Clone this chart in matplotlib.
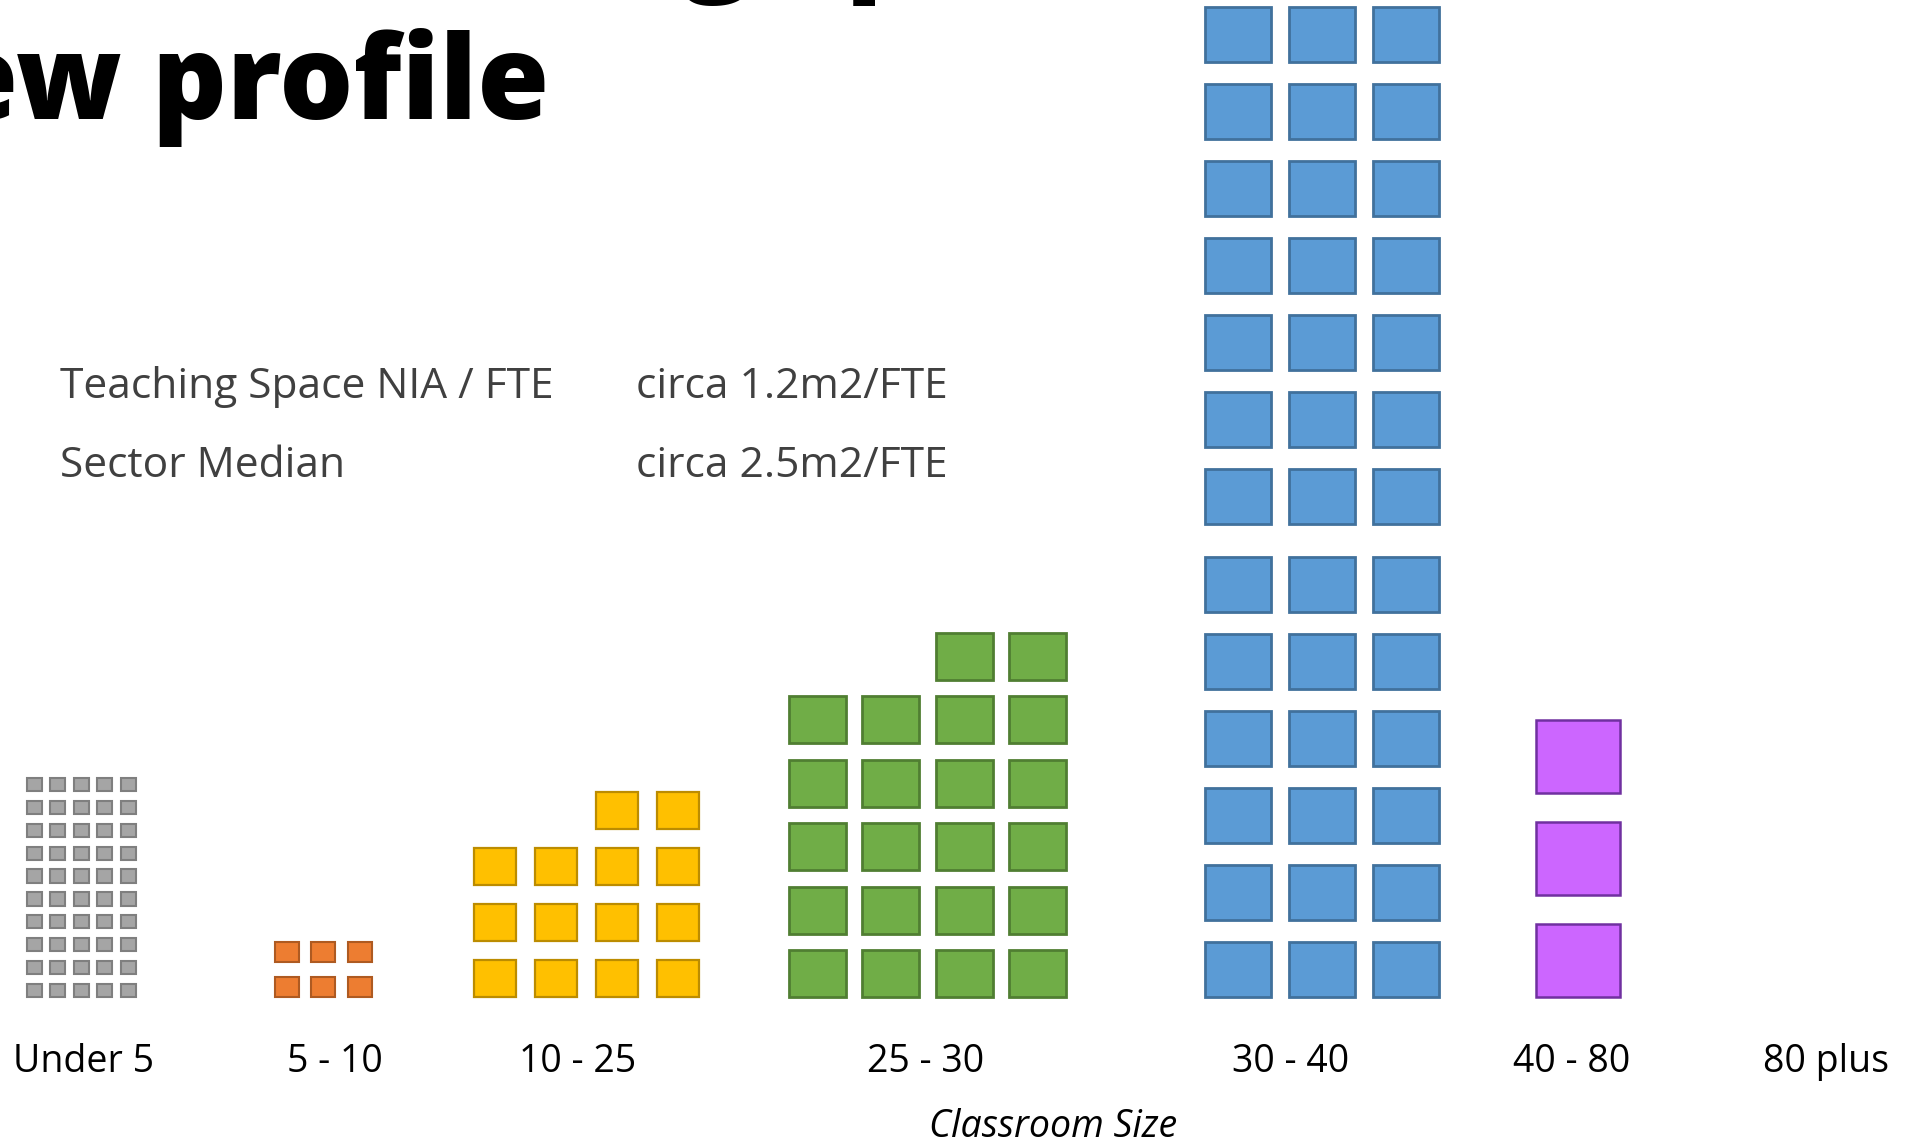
import matplotlib
matplotlib.use("Agg")
import matplotlib.pyplot as plt
from matplotlib.patches import Rectangle

# data
categories = ["Under 5", "5 - 10", "10 - 25", "25 - 30", "30 - 40", "40 - 80", "80 plus"]
room_counts = [50, 6, 14, 22, 39, 3, 0]
metric_names = ["Teaching Space NIA / FTE", "Sector Median"]
metric_values = ["circa 1.2m2/FTE", "circa 2.5m2/FTE"]
title_lines = ["Teaching space", "new profile"]
axis_title = "Classroom Size"

# layout, in pixels of the 1906x1141 slide crop
W, H = 1906, 1141
label_x = [84, 335, 578, 926, 1291, 1572, 1826]
groups = [
    dict(cols=5, left=27, w=15, h=13.3, dx=23.5, dy=22.85, fc="#A5A5A5", ec="#7F7F7F", lw=1.5),
    dict(cols=3, left=275, w=24, h=20.5, dx=36.5, dy=35, fc="#ED7D31", ec="#AE5A21", lw=1.5),
    dict(cols=4, left=474.5, w=42, h=37.5, dx=60.8, dy=56, fc="#FFC000", ec="#BC8C00", lw=1.6),
    dict(cols=4, left=789, w=57, h=47, dx=73.3, dy=63.4, fc="#70AD47", ec="#507E32", lw=2.0),
    dict(cols=3, left=1205, w=66, h=55, dx=84, dy=77, fc="#5B9BD5", ec="#41719C", lw=2.0,
         gap_after=6, gap=10.6),
    dict(cols=1, left=1536, w=84, h=73, dx=0, dy=102, fc="#CC66FF", ec="#7030A0", lw=1.8),
    dict(cols=1, left=1790, w=84, h=73, dx=0, dy=102, fc="#CC66FF", ec="#7030A0", lw=1.8),
]
base = 997

plt.rcParams['font.family'] = ['Open Sans', 'DejaVu Sans']

fig = plt.figure(figsize=(W / 100, H / 100), dpi=100)
ax = fig.add_axes([0, 1 - 1000 / H, 1, 1000 / H])
ax.set_xlim(0, W)
ax.set_ylim(1000, 0)
for s in ax.spines.values():
    s.set_visible(False)
ax.set_yticks([])

# unit squares, filled row by row from the bottom; a short top row sits on the right
for n, g in zip(room_counts, groups):
    if n == 0:
        continue
    cols = g['cols']
    full_rows, rem = divmod(n, cols)
    for k in range(n):
        row, col = divmod(k, cols)
        if row == full_rows:
            col += cols - rem
        bottom = base - row * g['dy']
        if row >= g.get('gap_after', 999):
            bottom -= g['gap']
        ax.add_patch(Rectangle((g['left'] + col * g['dx'], bottom - g['h']), g['w'], g['h'],
                               facecolor=g['fc'], edgecolor=g['ec'], linewidth=g['lw']))

ax.set_xticks(label_x, categories, fontsize=27, va='baseline')
ax.tick_params(axis='x', length=0, pad=72 * 0.72, labelcolor='black')
ax.set_xlabel(axis_title, fontsize=27, fontstyle='italic', va='baseline')
ax.xaxis.set_label_coords(1053 / W, -137 / 1000)

for i, (name, val) in enumerate(zip(metric_names, metric_values)):
    y = 398 + i * 79
    ax.text(60, y, name, fontsize=30.6, color='#404040', va='baseline')
    ax.text(636, y, val, fontsize=30.6, color='#404040', va='baseline')

# title, mostly cropped off the top-left of the slide
tkw = dict(fontsize=84, fontweight='heavy', color='black', va='baseline')
ax.text(549, 119, title_lines[1], ha='right', **tkw)
r = fig.canvas.get_renderer()
probe = ax.text(0, 0, title_lines[0][:7], **tkw)
pre_w = probe.get_window_extent(r).width
probe.remove()
ax.text(683 - pre_w, -22, title_lines[0], ha='left', **tkw)

fig.savefig("out.png", dpi=100)
